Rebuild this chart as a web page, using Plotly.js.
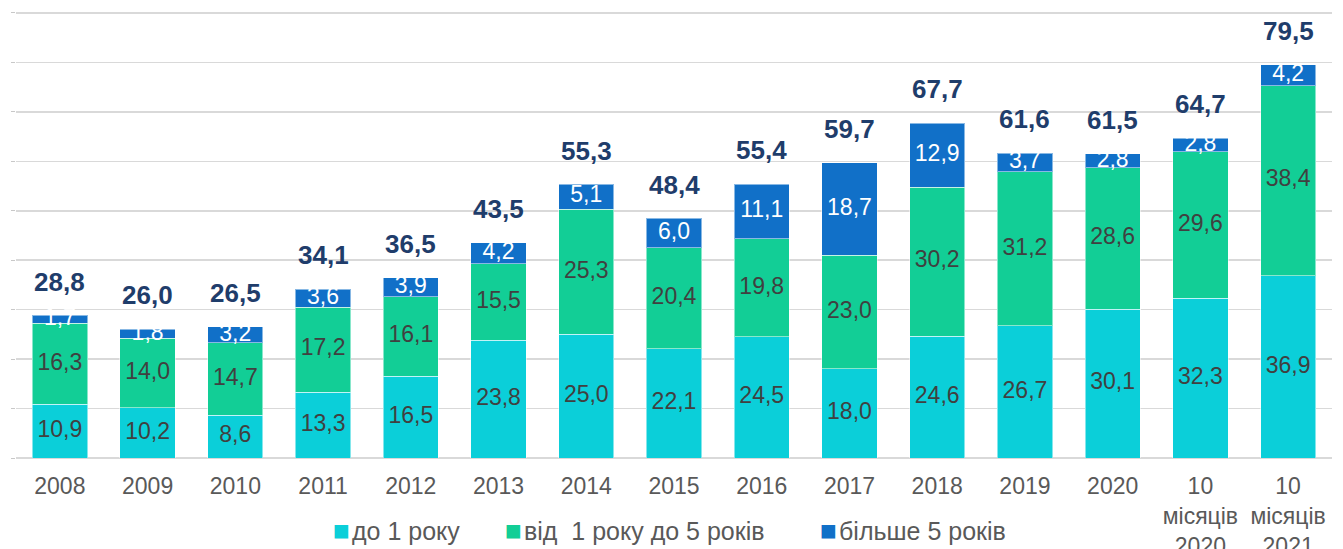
<!DOCTYPE html>
<html>
<head>
<meta charset="utf-8">
<script src="https://cdn.plot.ly/plotly-3.0.1.min.js"></script>
<style>html,body{margin:0;padding:0;background:#fff}#chart{width:1343px;height:549px}</style>
</head>
<body>
<div id="chart"></div>
<script>
const categories = ['2008','2009','2010','2011','2012','2013','2014','2015','2016','2017','2018','2019','2020','10<br>місяців<br>2020','10<br>місяців<br>2021'];
const upTo1Year = [10.9, 10.2, 8.6, 13.3, 16.5, 23.8, 25.0, 22.1, 24.5, 18.0, 24.6, 26.7, 30.1, 32.3, 36.9];
const from1to5Years = [16.3, 14.0, 14.7, 17.2, 16.1, 15.5, 25.3, 20.4, 19.8, 23.0, 30.2, 31.2, 28.6, 29.6, 38.4];
const over5Years = [1.7, 1.8, 3.2, 3.6, 3.9, 4.2, 5.1, 6.0, 11.1, 18.7, 12.9, 3.7, 2.8, 2.8, 4.2];
const totals = [28.8, 26.0, 26.5, 34.1, 36.5, 43.5, 55.3, 48.4, 55.4, 59.7, 67.7, 61.6, 61.5, 64.7, 79.5];
const seriesNames = ['до 1 року', 'від\u00a0 1 року до 5 років', 'більше 5 років'];

const fmt = v => v.toFixed(1).replace('.', ',');
const colors = ['#0BCFD9', '#12CE96', '#1170C8'];
const font = 'Liberation Sans, Arial, sans-serif';

const series = [upTo1Year, from1to5Years, over5Years];
const traces = [];
series.forEach((vals, i) => {
  traces.push({
    type: 'bar', x: categories, y: vals, name: seriesNames[i], showlegend: false,
    marker: {color: colors[i], line: {color: 'rgba(255,255,255,0.5)', width: 1}},
    hoverinfo: 'skip'
  });
});
// segment labels at segment midpoints
const base = categories.map(() => 0);
series.forEach((vals, i) => {
  const mids = vals.map((v, k) => base[k] + v / 2);
  vals.forEach((v, k) => base[k] += v);
  traces.push({
    type: 'scatter', mode: 'text', x: categories, y: mids,
    text: vals.map(fmt), showlegend: false, hoverinfo: 'skip', cliponaxis: false,
    textfont: {family: font, size: 23, color: i === 2 ? '#FFFFFF' : '#404040'}
  });
});
// totals as annotations above each bar (x = category index)
const annotations = categories.map((c, k) => ({
  x: k, y: totals[k], xref: 'x', yref: 'y', text: fmt(totals[k]), showarrow: false,
  yanchor: 'bottom', yshift: 17,
  font: {family: font, size: 26, color: '#1F3D6B', weight: 'bold'}
}));
// legend entries (colour key + series name)
const legendX = [0.2396, 0.3703, 0.6097];
seriesNames.forEach((n, i) => {
  annotations.push({
    xref: 'paper', yref: 'paper', x: legendX[i], y: -0.162, xanchor: 'left', yanchor: 'middle',
    showarrow: false,
    text: '<span style="color:' + colors[i] + ';font-size:28px">\u25A0</span>\u200A' + n,
    font: {family: font, size: 25, color: '#595959'}
  });
});

const layout = {
  width: 1343, height: 549,
  margin: {l: 16, r: 11, t: 8, b: 91},
  barmode: 'stack', bargap: 0.37,
  paper_bgcolor: '#fff', plot_bgcolor: '#fff',
  font: {family: font, color: '#595959', size: 22},
  xaxis: {type: 'category', range: [-0.5, categories.length - 0.5], tickfont: {size: 23, color: '#595959'}, showline: false, ticks: '', fixedrange: true, ticklabelstandoff: 12},
  yaxis: {range: [0, 91], dtick: 10, showticklabels: false, showgrid: true, gridcolor: '#D9D9D9', gridwidth: 1.5,
          zeroline: true, zerolinecolor: '#D9D9D9', zerolinewidth: 1.5, ticks: 'outside', ticklen: 4, tickcolor: '#C8C8C8', showline: false},
  annotations: annotations,
  showlegend: false
};
Plotly.newPlot('chart', traces, layout, {displayModeBar: false, staticPlot: true});
</script>
</body>
</html>
